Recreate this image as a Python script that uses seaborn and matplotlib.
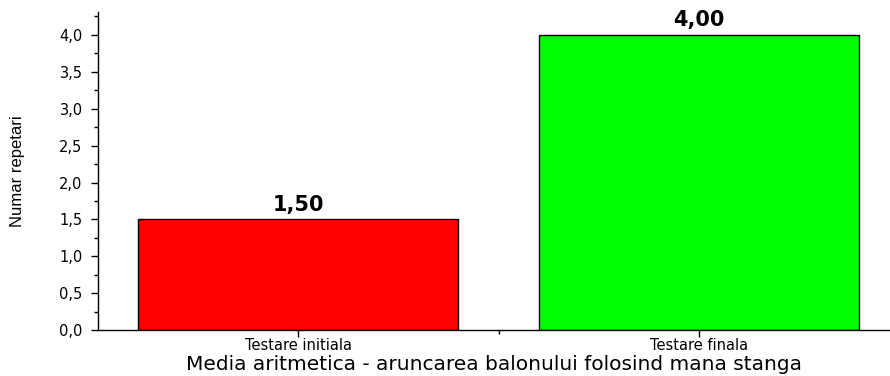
import matplotlib
matplotlib.use("Agg")
import matplotlib.pyplot as plt
import seaborn as sns
import pandas as pd
from matplotlib.ticker import FuncFormatter, MultipleLocator, FixedLocator

categories = ["Testare initiala", "Testare finala"]
values = [1.5, 4.0]
colors = ["#ff0000", "#00ff00"]
ylabel = "Numar repetari"
xlabel = "Media aritmetica - aruncarea balonului folosind mana stanga"

sns.set_theme(style="white")
plt.rcParams['font.family'] = ['DejaVu Sans']

df = pd.DataFrame({"cat": categories, "val": values})

fig = plt.figure(figsize=(8.9, 3.76), dpi=100)
ax = fig.add_axes([0.110, 0.122, 0.890, 0.846])
sns.barplot(data=df, x="cat", y="val", hue="cat", palette=colors, width=0.8,
            edgecolor="black", linewidth=1.0, legend=False, ax=ax, saturation=1)

ax.set_xlim(-0.5, 1.477)
ax.set_ylim(0, 4.31)
ax.yaxis.set_major_locator(MultipleLocator(0.5))
ax.yaxis.set_minor_locator(MultipleLocator(0.25))
ax.yaxis.set_major_formatter(FuncFormatter(lambda v, p: f"{v:.1f}".replace(".", ",")))
ax.xaxis.set_minor_locator(FixedLocator([0.5]))

for s in ["top", "right"]:
    ax.spines[s].set_visible(False)
for s in ["left", "bottom"]:
    ax.spines[s].set_color("black")
    ax.spines[s].set_linewidth(1.0)

ax.tick_params(axis="y", which="major", direction="out", length=5, width=1,
               color="black", labelsize=10.5, labelcolor="black", left=True, pad=6)
ax.tick_params(axis="x", which="major", direction="out", length=5, width=1,
               color="black", labelsize=10.5, labelcolor="black", bottom=True, pad=1)
ax.tick_params(axis="both", which="minor", direction="out", length=3, width=1,
               color="black", left=True, bottom=True)

ax.set_ylabel(ylabel, fontsize=12, family="Liberation Sans", color="black", labelpad=25)
ax.set_xlabel(xlabel, fontsize=14.5, color="black", labelpad=1)

for i, v in enumerate(values):
    ax.text(i, v + 0.06, f"{v:.2f}".replace(".", ","), ha="center", va="bottom",
            fontsize=15, fontweight="bold", color="black")

fig.savefig("out.png", dpi=100)
